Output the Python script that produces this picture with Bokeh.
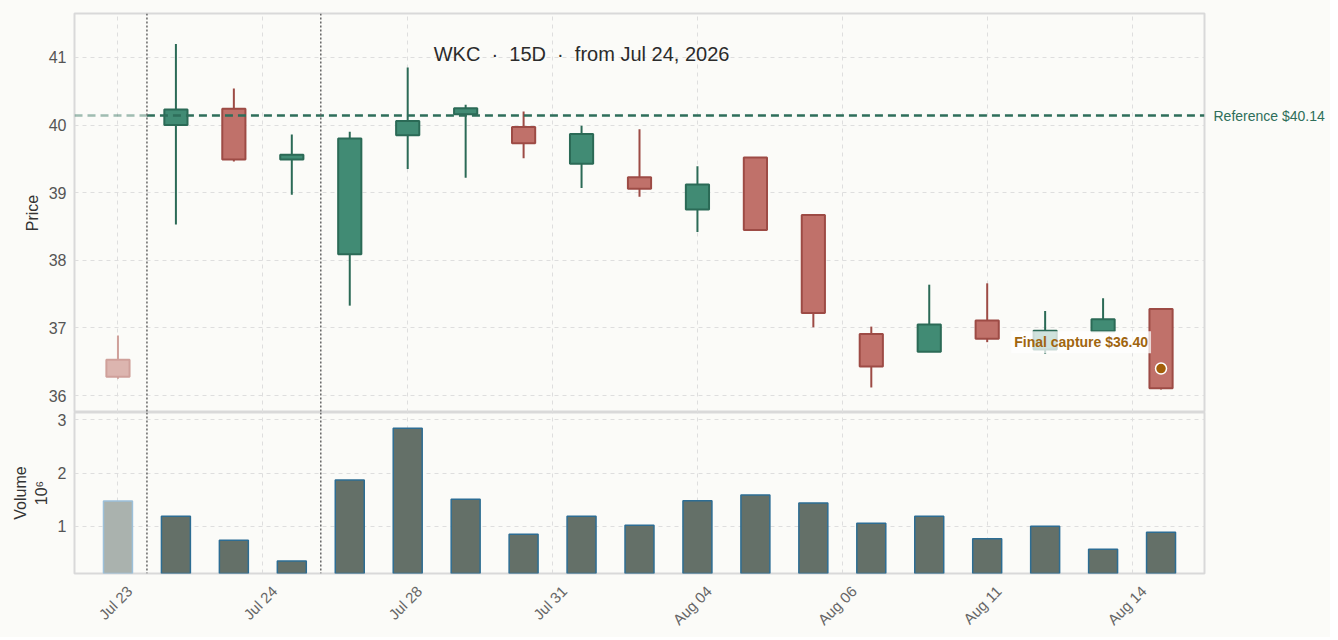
import numpy as np
from bokeh.plotting import figure
from bokeh.layouts import column
from bokeh.models import ColumnDataSource, FixedTicker, Span, Label, Range1d, LinearAxis
from bokeh.embed import file_html
from bokeh.resources import INLINE

# candle data (index 0 = bar before the window)
idx = list(range(19))
opens = [36.53, 40.00, 40.24, 39.49, 38.09, 39.85, 40.16, 39.97, 39.43, 39.23,
         38.75, 39.52, 38.67, 36.91, 36.65, 37.11, 36.68, 36.95, 37.28]
closes = [36.28, 40.23, 39.49, 39.56, 39.80, 40.06, 40.25, 39.73, 39.87, 39.06,
          39.12, 38.45, 37.22, 36.43, 37.05, 36.84, 36.96, 37.13, 36.11]
highs = [36.89, 41.20, 40.54, 39.86, 39.90, 40.85, 40.30, 40.20, 39.99, 39.94,
         39.39, 39.52, 38.67, 37.02, 37.64, 37.66, 37.25, 37.44, 37.28]
lows = [36.25, 38.53, 39.46, 38.97, 37.33, 39.35, 39.22, 39.51, 39.07, 38.94,
        38.42, 38.45, 37.01, 36.12, 36.65, 36.79, 36.62, 36.95, 36.09]
volumes = [1.475e6, 1.19e6, 0.74e6, 0.35e6, 1.87e6, 2.84e6, 1.51e6, 0.855e6,
           1.19e6, 1.02e6, 1.48e6, 1.59e6, 1.44e6, 1.06e6, 1.19e6, 0.77e6,
           1.005e6, 0.57e6, 0.89e6]

tick_pos = [0, 2.5, 5, 7.5, 10, 12.5, 15, 17.5]
tick_labels = ["Jul 23", "Jul 24", "Jul 28", "Jul 31", "Aug 04", "Aug 06", "Aug 11", "Aug 14"]
period_marks = [0.5, 3.5]
ref_price = 40.14
final_price = 36.40
title_text = "WKC \u00a0·\u00a0 15D \u00a0·\u00a0 from Jul 24, 2026"

BG = "#fbfbf8"
FONT = "Liberation Sans"
UP_FILL, UP_LINE = "#418b74", "#2b6a56"
DN_FILL, DN_LINE = "#c0716a", "#9d4b45"
PRE_FILL, PRE_LINE = "#dcb5af", "#cfa09a"
REF = "#2e6e5a"

up = [c >= o for o, c in zip(opens, closes)]
fills = [UP_FILL if u else DN_FILL for u in up]
lines = [UP_LINE if u else DN_LINE for u in up]
fills[0], lines[0] = PRE_FILL, PRE_LINE

src = ColumnDataSource(dict(
    x=idx, high=highs, low=lows,
    top=[max(o, c) for o, c in zip(opens, closes)],
    bottom=[min(o, c) for o, c in zip(opens, closes)],
    fill=fills, line=lines,
    vol=volumes,
    vfill=["#aab2ae"] + ["#647068"] * 18,
    vline=["#9cc0da"] + ["#2d6d93"] * 18,
))

x_range = Range1d(-0.75, 18.75)


def style(p):
    p.background_fill_color = BG
    p.border_fill_color = BG
    p.outline_line_color = "#d9d9d9"
    p.outline_line_width = 2
    for ax in p.axis:
        ax.axis_line_color = None
        ax.major_tick_line_color = None
        ax.minor_tick_line_color = None
        ax.major_label_text_font = FONT
        ax.major_label_text_color = "#555555"
        ax.major_label_text_font_size = "16px"
        ax.major_label_standoff = 2
        ax.axis_label_text_font = FONT
        ax.axis_label_text_font_size = "16px"
        ax.axis_label_text_font_style = "normal"
        ax.axis_label_text_color = "#333333"
    for g in p.grid:
        g.grid_line_color = "#dedede"
        g.grid_line_dash = "4 4"
        g.grid_line_width = 1
    p.xgrid.ticker = FixedTicker(ticks=tick_pos)
    for m in period_marks:
        p.add_layout(Span(location=m, dimension="height", line_color="#666666",
                          line_width=1.5, line_dash="2 2"))


# price panel
p = figure(width=1330, height=412, x_range=x_range, y_range=Range1d(35.75, 41.65),
           output_backend="svg", toolbar_location=None,
           min_border_left=74, min_border_right=126, min_border_top=13, min_border_bottom=0)
style(p)
p.xaxis.visible = False
p.yaxis.ticker = FixedTicker(ticks=[36, 37, 38, 39, 40, 41])
p.yaxis.axis_label = "Price"

p.segment(x0="x", y0="high", x1="x", y1="low", source=src, line_color="line", line_width=2)
p.vbar(x="x", width=0.4, top="top", bottom="bottom", source=src,
       fill_color="fill", line_color="line", line_width=2)

# reference line: faded before the window, solid after
p.line([x_range.start, period_marks[0]], [ref_price, ref_price], line_color=REF,
       line_alpha=0.45, line_width=2.5, line_dash="8 5")
p.line([period_marks[0], x_range.end], [ref_price, ref_price], line_color=REF,
       line_width=2.5, line_dash="8 5")
ref_axis = LinearAxis(ticker=FixedTicker(ticks=[ref_price]),
                      major_label_overrides={ref_price: f"Reference ${ref_price:.2f}"},
                      axis_line_color=None, major_tick_line_color=None,
                      minor_tick_line_color=None, major_label_standoff=3,
                      major_label_text_font=FONT, major_label_text_font_size="14px",
                      major_label_text_color=REF)
p.add_layout(ref_axis, "right")

p.add_layout(Label(x=8, y=41.05, text=title_text, text_font=FONT, text_font_size="20px",
                   text_color="#2b2b2b", text_align="center", text_baseline="middle"))

p.add_layout(Label(x=idx[-1], y=final_price + 0.39, x_offset=-10,
                   text=f"Final capture ${final_price:.2f}", text_font=FONT,
                   text_font_size="14px", text_font_style="bold", text_color="#a0650f",
                   text_align="right", text_baseline="middle",
                   background_fill_color="white", background_fill_alpha=0.75, padding=3))
p.scatter([idx[-1]], [final_price], size=11, fill_color="#a35f0a",
          line_color="white", line_width=1.5)

# volume panel
v = figure(width=1330, height=225, x_range=x_range, y_range=Range1d(0.117e6, 3.137e6),
           output_backend="svg", toolbar_location=None,
           min_border_left=74, min_border_right=126, min_border_top=0, min_border_bottom=55)
style(v)
v.vbar(x="x", width=0.5, top="vol", bottom=0, source=src,
       fill_color="vfill", line_color="vline", line_width=1.5)
v.yaxis.ticker = FixedTicker(ticks=[1e6, 2e6, 3e6])
v.yaxis.major_label_overrides = {1e6: "1", 2e6: "2", 3e6: "3"}
v.yaxis.axis_label = "Volume\n10⁶"
# rotated labels are centred under their dates, so the label anchors sit a bit right
label_shift = 0.2
v.xaxis.ticker = FixedTicker(ticks=[t + label_shift for t in tick_pos])
v.xaxis.major_label_overrides = {t + label_shift: s for t, s in zip(tick_pos, tick_labels)}
v.xaxis.major_label_orientation = np.pi / 4
v.xaxis.major_label_text_font_size = "15px"
v.xaxis.major_label_text_color = "#666666"
v.xaxis.major_label_standoff = 9

layout = column(p, v, spacing=0, styles={"background-color": BG})

html = file_html(layout, INLINE)
html = html.replace("<body>", f'<body style="background-color:{BG}">', 1)
open("out.html", "w").write(html)
